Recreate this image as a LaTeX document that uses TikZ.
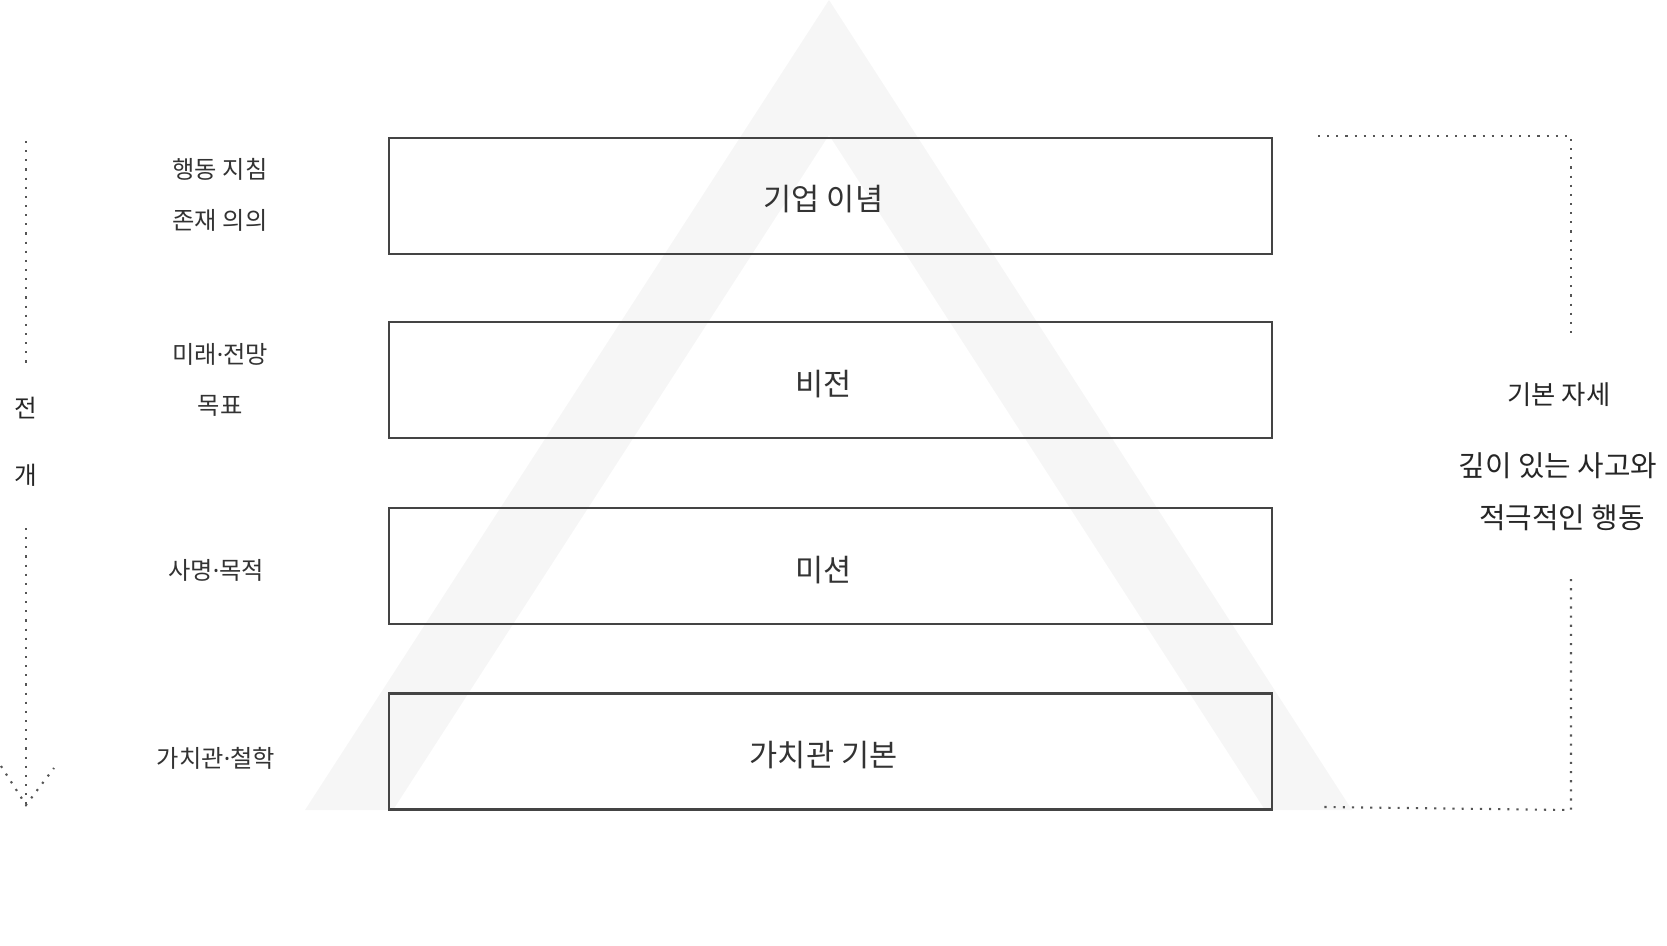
\documentclass[tikz,border=0pt]{standalone}
\usepackage{fontspec}
\setmainfont{Noto Sans CJK KR}
\newfontfamily\dotfont{Noto Sans}
\newcommand{\mdot}{{\dotfont ·}}
\usepackage{tikz}
\usetikzlibrary{positioning}

\definecolor{bandgray}{HTML}{F6F6F6}
\definecolor{boxline}{HTML}{444444}
\definecolor{labelgray}{HTML}{333333}
\definecolor{dotgray}{HTML}{555555}

\begin{document}
\begin{tikzpicture}[x=0.01cm, y=-0.01cm,
		layer/.style = {draw=boxline, line width=0.6pt, minimum width=8.83cm, minimum height=1.16cm, inner sep=0pt},
		layertext/.style = {labelgray, font=\fontsize{8.7pt}{10pt}\selectfont},
		sidetext/.style = {labelgray, font=\fontsize{6.9pt}{8pt}\selectfont},
		posetext/.style = {black!85, font=\fontsize{8.2pt}{10pt}\selectfont},
		dotrule/.style = {draw=dotgray, line width=0.6pt, dash pattern=on 0.6pt off 2pt}]
		\useasboundingbox (0,0) rectangle (1667,945);
		
		% background triangle band
		\fill[bandgray, even odd rule]
		(829,0) -- (1352,810) -- (305,810) -- cycle
		(829,135) -- (1265,810) -- (393,810) -- cycle;
		
		% layers
		\node [layer] (l1) at (830.5,196) {};
		\node [layer] (l2) at (830.5,380) {};
		\node [layer] (l3) at (830.5,566) {};
		\node [layer] (l4) at (830.5,751.5) {};
		\node [layertext] (l1txt) at ([xshift=-0.07cm, yshift=-0.03cm]l1.center) {기업 이념};
		\node [layertext] (l2txt) at ([xshift=-0.07cm, yshift=-0.04cm]l2.center) {비전};
		\node [layertext] (l3txt) at ([xshift=-0.07cm, yshift=-0.04cm]l3.center) {미션};
		\node [layertext] (l4txt) at ([xshift=-0.07cm, yshift=-0.04cm]l4.center) {가치관 기본};
		
		% left notes
		\node [sidetext] (n1a) at (220,169) {행동 지침};
		\node [sidetext] (n1b) at (220,220) {존재 의의};
		\node [sidetext] (n2a) at (220,354) {미래\mdot 전망};
		\node [sidetext] (n2b) at (220,406) {목표};
		\node [sidetext] (n3) at (216,570) {사명\mdot 목적};
		\node [sidetext] (n4) at (216,758) {가치관\mdot 철학};
		
		% flow arrow
		\node [black!85, font=\fontsize{7pt}{8pt}\selectfont] (jeon) at (26,408) {전};
		\node [black!85, font=\fontsize{7pt}{8pt}\selectfont] (gae) at (26,475) {개};
		\coordinate (flowtop) at (26,141);
		\coordinate (flowmid) at (26,369);
		\coordinate (flowlow) at (26,528);
		\coordinate (flowtip) at (26,805);
		\coordinate (flowL) at (1,766);
		\coordinate (flowR) at (54,768);
		\draw [dotrule]
		(flowtop) -- (flowmid);
		\draw [dotrule]
		(flowlow) -- (flowtip);
		\draw [dotrule]
		(flowL) -- (flowtip) -- (flowR);
		
		% right bracket
		\node [black!85, font=\fontsize{7.5pt}{9pt}\selectfont] (pose) at (1559,395) {기본 자세};
		\node [posetext] (poseA) at (1558,466) {깊이 있는 사고와};
		\node [posetext] (poseB) at (1562,518) {적극적인 행동};
		\coordinate (brTL) at (1318,136);
		\coordinate (brTR) at (1571,136);
		\coordinate (brUp) at (1571,338);
		\coordinate (brDown) at (1571,579);
		\coordinate (brBR) at (1571,810);
		\coordinate (brBL) at (1324,807);
		\draw [dotrule]
		(brTL) -- (brTR) -- (brUp);
		\draw [dotrule]
		(brDown) -- (brBR) -- (brBL);
		
\end{tikzpicture}
\end{document}
